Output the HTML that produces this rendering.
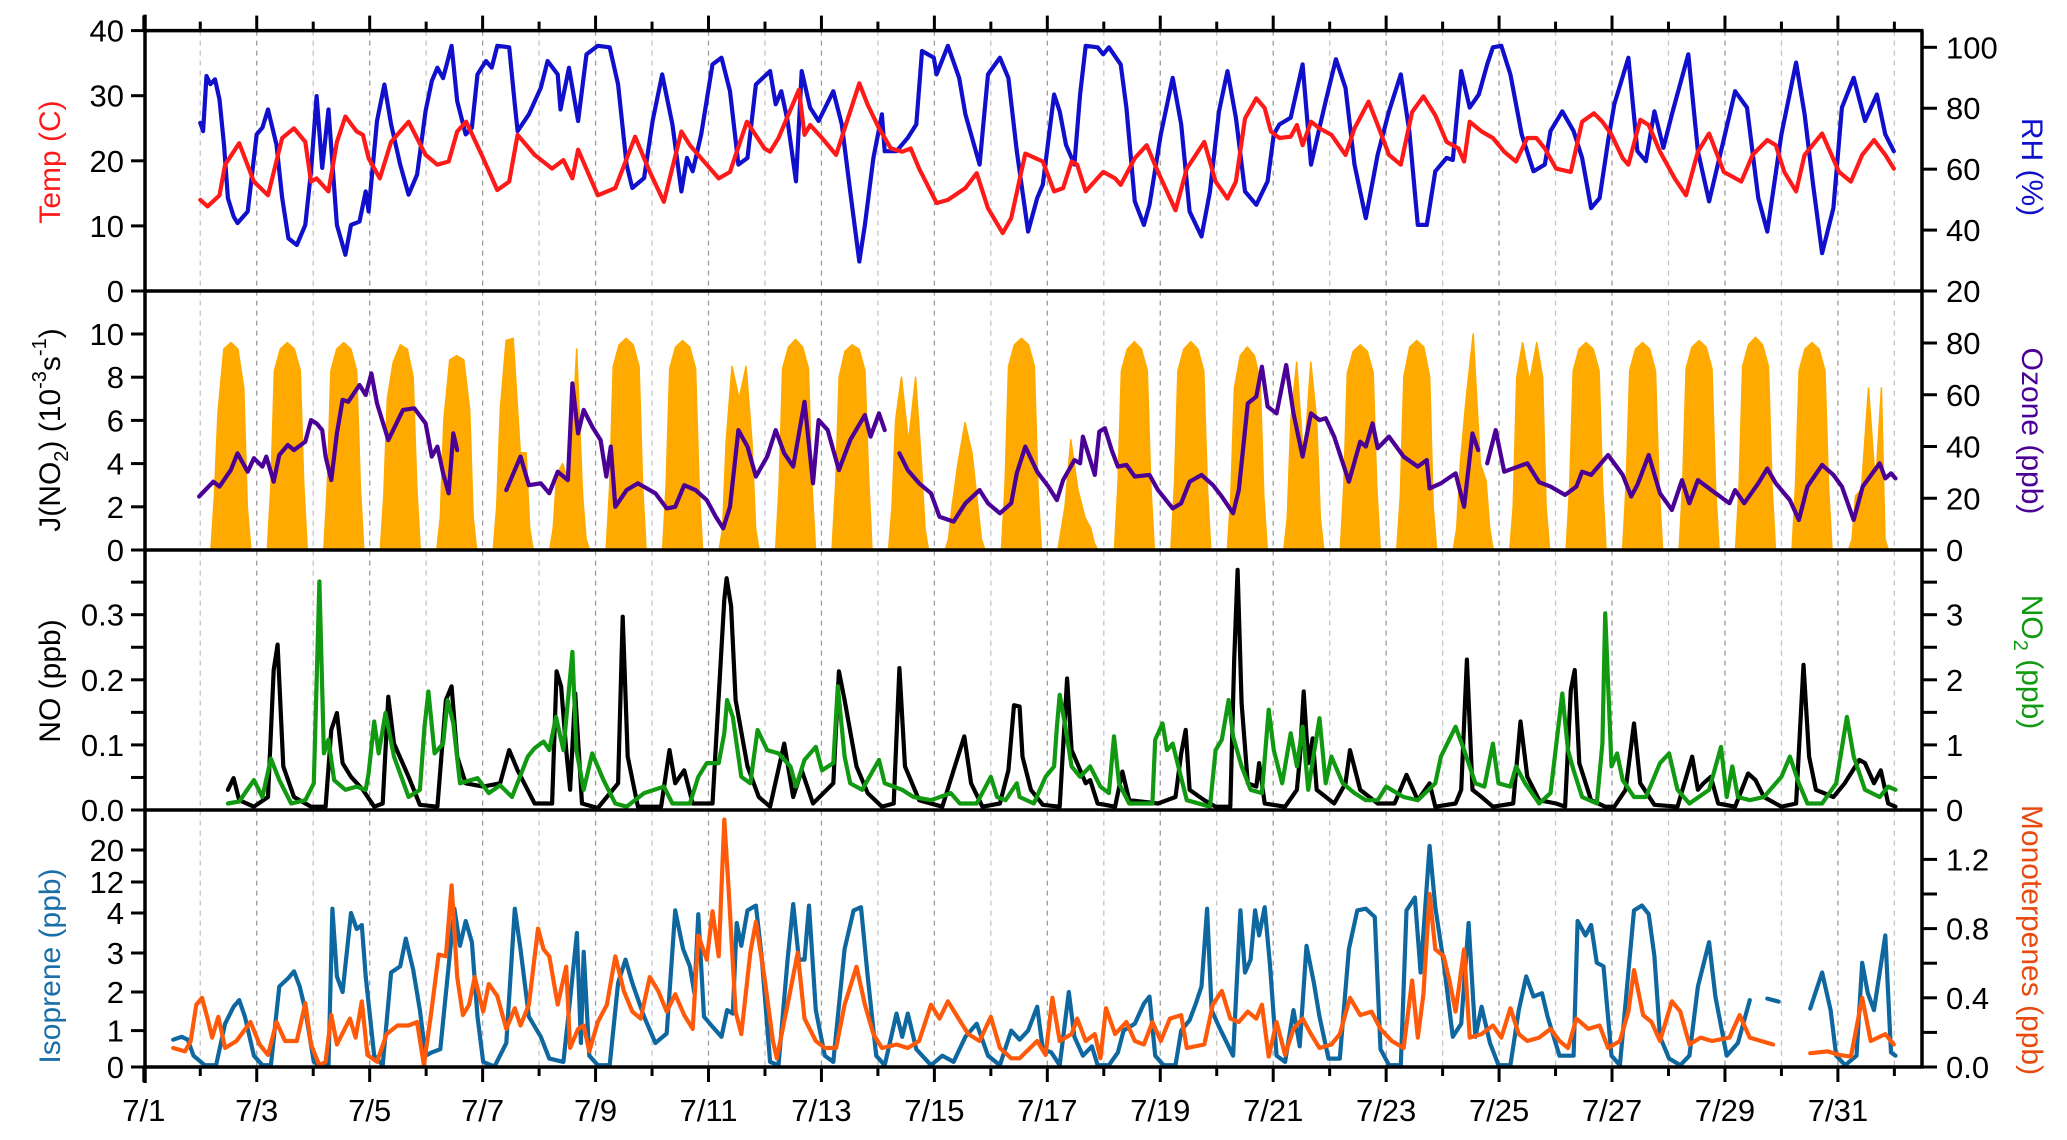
<!DOCTYPE html>
<html><head><meta charset="utf-8"><style>
html,body{margin:0;padding:0;background:#fff;}
svg{display:block;font-family:"Liberation Sans",Arial,sans-serif;}
</style></head><body>
<svg id="chart" xmlns="http://www.w3.org/2000/svg" width="2067" height="1140" viewBox="0 0 2067 1140">
<rect x="0" y="0" width="2067" height="1140" fill="#fff"/>
<g id="grid"></g>
<g id="marks"></g>
<g id="axes"></g>
<text transform="translate(60,162) rotate(-90)" text-anchor="middle" font-size="30" fill="#ff1a1a">Temp (C)</text>
<text transform="translate(60,430) rotate(-90)" text-anchor="middle" font-size="30" fill="#000">J(NO<tspan font-size="20" dy="8">2</tspan><tspan dy="-8">) (10</tspan><tspan font-size="20" dy="-14">-3</tspan><tspan dy="14">s</tspan><tspan font-size="20" dy="-14">-1</tspan><tspan dy="14">)</tspan></text>
<text transform="translate(60,681) rotate(-90)" text-anchor="middle" font-size="30" fill="#000">NO (ppb)</text>
<text transform="translate(60,966) rotate(-90)" text-anchor="middle" font-size="30" fill="#1a6fa8">Isoprene (ppb)</text>
<text transform="translate(2022,167) rotate(90)" text-anchor="middle" font-size="30" fill="#1010cc">RH (%)</text>
<text transform="translate(2022,431) rotate(90)" text-anchor="middle" font-size="30" fill="#4b0096">Ozone (ppb)</text>
<text transform="translate(2022,662) rotate(90)" text-anchor="middle" font-size="30" fill="#119911">NO<tspan font-size="20" dy="8">2</tspan><tspan dy="-8"> (ppb)</tspan></text>
<text transform="translate(2022,940) rotate(90)" text-anchor="middle" font-size="30" fill="#e84a10">Monoterpenes (ppb)</text>
</svg>
<script>
// ---------- DATA ----------
const dayLabels = ["7/1","7/3","7/5","7/7","7/9","7/11","7/13","7/15","7/17","7/19","7/21","7/23","7/25","7/27","7/29","7/31"];
const tempTicks = [0,10,20,30,40];
const rhTicks = [20,40,60,80,100];
const jTicks = [0,2,4,6,8,10];
const o3Ticks = [0,20,40,60,80];
const noTicks = [0,0.05,0.1,0.15,0.2,0.25,0.3,0.35];
const noLabels = ["0.0","","0.1","","0.2","","0.3",""];
const no2Ticks = [0,0.5,1,1.5,2,2.5,3,3.5];
const no2Labels = ["0","","1","","2","","3",""];
const isoTicks = [0,1,2,3,4,12,20];
const mtTicks = [0,0.2,0.4,0.6,0.8,1.0,1.2];
const mtLabels = ["0.0","","0.4","","0.8","","1.2"];

const tempT = [1.00,1.13,1.34,1.44,1.69,1.95,2.20,2.45,2.66,2.86,2.96,3.06,3.27,3.42,3.57,3.77,3.88,3.98,4.18,4.38,4.69,4.99,5.20,5.40,5.55,5.71,6.01,6.26,6.47,6.62,6.92,7.23,7.43,7.59,7.69,8.04,8.35,8.70,8.96,9.21,9.52,9.67,9.87,10.18,10.38,10.68,10.99,11.09,11.24,11.60,11.70,11.80,12.01,12.26,12.67,12.82,13.02,13.23,13.43,13.58,13.73,14.04,14.24,14.55,14.75,14.95,15.21,15.36,15.61,
15.92,16.12,16.28,16.43,16.53,16.68,16.99,17.20,17.30,17.55,17.76,17.96,18.27,18.47,18.78,18.98,19.19,19.34,19.50,19.70,19.85,19.96,20.11,20.31,20.42,20.52,20.67,20.82,21.03,21.28,21.44,21.69,21.85,22.05,22.26,22.46,22.66,22.87,23.07,23.28,23.38,23.48,23.69,23.89,24.09,24.30,24.50,24.66,24.81,25.01,25.27,25.47,25.68,25.83,25.99,26.19,26.29,26.50,26.65,26.85,27.11,27.31,27.52,27.72,27.98,28.29,28.49,28.75,28.90,29.05,29.26,29.41,29.72,30.02,30.23,30.43,30.64,30.84,30.99];
const tempV = [14.0,13.0,14.7,19.4,22.7,16.8,14.7,23.5,25.0,22.9,16.8,17.3,15.3,22.9,26.8,24.5,24.0,20.4,17.3,22.9,26.0,20.9,19.4,19.9,24.5,26.0,20.4,15.5,16.8,24.0,20.9,18.8,20.1,17.3,21.7,14.7,15.8,23.7,18.3,13.7,24.5,22.4,20.4,17.3,18.3,26.0,21.9,21.4,23.5,30.9,24.0,25.5,23.5,20.9,31.9,28.6,25.0,21.9,21.4,21.9,18.8,13.5,14.0,15.8,18.1,12.7,8.9,11.2,21.1,
19.9,15.3,15.8,19.9,19.4,15.3,18.3,17.3,16.3,20.4,22.4,18.3,12.4,18.8,22.9,16.8,14.2,16.8,26.5,29.6,28.1,24.5,23.5,23.7,25.5,22.4,26.0,25.0,24.0,20.9,25.0,29.1,25.5,20.9,19.4,27.5,29.9,27.0,22.9,21.9,19.9,26.0,24.5,23.5,21.4,19.9,23.5,23.5,21.9,18.8,18.3,26.0,27.3,26.0,24.0,20.4,19.4,26.3,25.5,21.4,17.3,14.7,21.4,24.2,18.3,16.8,20.9,23.2,22.4,18.3,15.3,20.9,24.2,18.3,16.8,20.9,23.2,20.9,18.8];

const rhT = [1.00,1.05,1.11,1.18,1.26,1.34,1.42,1.49,1.59,1.66,1.84,2.00,2.10,2.20,2.35,2.45,2.56,2.71,2.86,2.96,3.06,3.16,3.27,3.42,3.57,3.67,3.82,3.93,3.98,4.13,4.26,4.38,4.54,4.69,4.84,4.99,5.10,5.20,5.30,5.45,5.55,5.70,5.81,5.91,6.06,6.16,6.26,6.47,6.57,6.62,6.82,7.03,7.15,7.33,7.38,7.53,7.69,7.84,8.04,8.25,8.40,8.55,8.65,8.86,9.01,9.18,9.36,9.52,9.62,9.72,9.87,10.07,10.23,10.38,10.53,10.69,10.84,11.09,11.19,11.29,11.40,11.55,11.65,11.80,11.95,12.21,12.36,12.51,12.67,12.77,12.92,13.07,13.12,13.33,13.53,13.68,13.78,13.99,14.04,14.24,14.44,14.55,14.80,14.95,15.16,15.31,15.46,
15.66,15.82,15.92,16.12,16.22,16.33,16.48,16.58,16.68,16.89,16.99,17.09,17.30,17.40,17.55,17.71,17.81,18.01,18.22,18.37,18.52,18.73,18.88,19.04,19.19,19.34,19.50,19.70,19.90,20.01,20.11,20.31,20.52,20.67,20.82,20.93,21.11,21.28,21.44,21.64,21.85,22.05,22.26,22.41,22.56,22.72,22.87,23.07,23.18,23.33,23.48,23.64,23.79,23.89,24.04,24.20,24.40,24.61,24.81,24.91,25.12,25.32,25.47,25.63,25.78,25.93,26.04,26.29,26.45,26.60,26.75,26.91,27.06,27.35,27.52,27.72,27.93,28.18,28.39,28.59,28.75,29.00,29.26,29.41,29.56,29.72,29.92,30.07,30.28,30.48,30.69,30.84,30.99];
const rhV = [75.2,72.5,90.6,87.9,89.5,82.9,68.0,50.5,44.5,42.3,46.1,71.4,73.6,79.6,68.0,50.5,37.3,35.1,41.7,59.3,84.0,60.4,79.6,41.7,31.9,41.7,42.8,52.7,46.1,75.8,87.8,74.7,61.5,51.6,58.2,79.1,88.9,93.3,89.9,100.5,82.3,71.4,73.6,91.1,95.5,93.3,100.5,100.0,81.3,72.5,78.0,86.7,95.5,91.1,79.6,93.3,75.8,97.7,100.5,100.0,87.8,61.5,53.8,57.1,75.8,91.1,74.7,52.7,63.7,59.3,71.4,94.4,96.6,85.6,61.5,63.7,87.8,92.2,81.3,85.6,75.8,56.0,92.2,80.2,75.8,85.6,74.7,52.7,29.7,41.7,63.7,78.0,65.9,65.9,70.3,74.7,98.8,96.6,91.1,100.5,89.9,78.0,61.5,91.1,96.6,89.9,65.9,
39.5,50.5,54.9,84.5,79.0,68.0,61.5,84.5,100.5,100.0,97.7,100.0,94.4,80.2,49.4,41.7,48.3,71.4,90.0,74.7,46.1,37.9,52.7,79.0,92.2,76.9,52.7,48.3,56.0,71.4,74.7,76.9,94.4,61.5,73.6,82.3,96.1,86.7,61.5,43.9,64.8,79.0,91.1,72.5,41.7,41.7,59.3,63.7,63.0,92.2,80.2,84.5,94.4,100.0,100.5,91.1,71.4,59.3,61.5,72.5,79.0,72.5,63.7,47.2,50.5,69.2,81.3,96.6,65.9,62.6,79.0,67.0,78.0,97.7,65.9,49.4,65.9,85.6,80.2,50.5,39.5,71.4,95.0,78.0,54.9,32.4,47.2,80.2,90.0,75.8,84.5,71.4,65.9];

// J(NO2): one row per day (7/2 .. 7/31), values at the hours in jHours
const jHours = [4.5,6,7.5,10,13,16,18.5,20,21.5];
const jRows = [
[0,2.5,6.3,9.3,9.6,9.3,7.5,2,0],[0,3,8.3,9.3,9.6,9.3,8.3,3,0],[0,3,8.3,9.3,9.6,9.3,8.3,3,0],[0,2.5,7,8.7,9.5,9.3,8,3,0],
[0,1.5,6,8.8,9.0,8.8,6.5,1.5,0],[0,2,6.5,9.7,9.8,4.5,4.5,1,0],[0,1,3.5,4,3,9.3,2.5,0.5,0],[0,3,8.5,9.5,9.8,9.5,8.5,3,0],
[0,3,8.4,9.4,9.7,9.4,8.4,3,0],[0,1,5,8.5,7,8.5,5,1,0],[0,3,8.4,9.4,9.75,9.4,8.4,3,0],[0,3,8,9.2,9.5,9.3,8.3,3.5,0],
[0,2,6,8,5,8,4,1,0],[0,0.5,2,4,5.9,4.5,2,0.5,0],[0,3,8.5,9.5,9.8,9.5,8.5,3,0],[0,1,2,5.1,2.8,1.5,1,0.3,0],
[0,3,8.3,9.3,9.65,9.3,8.3,3,0],[0,3,8.3,9.3,9.65,9.3,8.3,3,0],[0,2.5,7.5,9,9.4,9,7.8,2.5,0],[0,1.5,6,8.7,4,8.7,6,1.5,0],
[0,3,8.2,9.2,9.5,9.2,8.2,3,0],[0,2.5,8,9.4,9.7,9.4,8,2,0],[0,1,4,7,10,4,3.2,1,0],[0,2,8,9.6,7.8,9.6,8,2,0],
[0,3,8.3,9.3,9.6,9.3,8.3,3,0],[0,3,8.3,9.3,9.6,9.3,8.3,3,0],[0,3,8.4,9.4,9.7,9.4,8.4,3,0],[0,3,8.5,9.5,9.85,9.5,8.5,3,0],
[0,3,8.3,9.3,9.6,9.3,8.3,3,0],[0,0.5,2.5,2.8,7.5,3,7.5,0.5,0]];

const o3T = [0.98,1.23,1.34,1.54,1.66,1.84,1.95,2.10,2.17,2.30,2.40,2.55,2.66,2.86,2.96,3.06,3.16,3.22,3.32,3.42,3.52,3.62,3.82,3.93,4.03,4.13,4.33,4.59,4.79,4.99,5.10,5.20,5.30,5.40,5.48,5.55,6.0,
6.42,6.67,6.82,7.03,7.18,7.33,7.51,7.59,7.69,7.79,7.94,8.09,8.19,8.27,8.35,8.55,8.75,9.06,9.26,9.41,9.57,9.77,9.97,10.13,10.26,10.38,10.53,10.69,10.84,11.04,11.19,11.34,11.50,11.70,11.85,11.95,12.11,12.31,12.51,12.77,12.87,13.02,13.12,13.25,
13.38,13.53,13.73,13.94,14.09,14.34,14.55,14.80,14.95,15.16,15.36,15.46,15.61,
15.82,16.02,16.17,16.28,16.48,16.58,16.63,16.84,16.92,17.02,17.14,17.25,17.40,17.55,17.81,17.96,18.22,18.37,18.52,18.73,18.93,19.09,19.29,19.39,19.55,19.70,19.80,19.90,20.06,20.23,20.36,20.52,20.67,20.82,20.93,21.08,21.34,21.54,21.64,21.76,21.85,22.05,22.31,22.56,22.72,22.77,22.97,23.23,23.38,23.53,23.63,23.70,
23.79,23.94,24.09,24.50,24.71,24.91,25.17,25.37,25.47,25.63,25.93,26.19,26.34,26.45,26.65,26.85,27.06,27.24,27.37,27.52,27.77,28.08,28.18,28.34,28.59,28.75,28.90,29.15,29.31,29.46,29.72,29.92,30.07,30.28,30.44,30.74,30.84,30.94,31.02];
const o3V = [19.8,25.3,23.5,29.6,35.8,29.0,34.0,30.9,34.6,25.3,35.2,38.9,37.0,40.1,48.1,46.9,44.4,34.6,25.9,43.2,55.6,54.9,61.1,57.4,65.4,54.3,40.7,51.9,52.5,46.9,34.6,38.3,28.4,21.0,43.2,37.0,null,
22.2,34.6,24.0,24.7,21.0,29.0,25.9,61.7,43.2,51.9,45.7,40.7,27.2,38.3,16.0,22.2,24.7,21.0,15.4,16.0,24.0,22.2,18.5,12.3,8.0,16.0,44.4,38.3,27.2,34.6,44.4,35.8,30.9,54.9,24.7,48.1,44.4,29.6,40.7,50.0,42.0,50.6,44.4,null,
35.8,29.6,24.7,21.0,12.3,10.5,17.3,22.2,17.3,13.6,17.3,28.4,38.3,
29.0,23.5,18.5,25.9,33.3,32.1,42.0,27.8,43.8,45.1,37.0,30.9,31.5,27.2,27.8,22.2,15.4,17.3,25.3,27.8,24.1,19.8,13.6,22.2,54.3,56.8,67.9,53.1,50.6,68.5,50.6,34.6,50.6,48.1,48.8,42.0,25.3,40.1,38.3,46.9,37.7,42.0,34.6,30.9,33.3,22.8,24.7,28.4,16.0,43.2,37.0,null,
32.1,44.4,29.0,32.1,25.1,23.5,20.4,23.5,29.0,27.8,35.2,27.8,19.8,24.1,35.2,21.0,14.8,25.9,17.3,25.9,22.0,17.3,22.2,17.3,24.7,30.2,24.7,18.5,11.1,23.5,31.5,27.8,23.5,11.1,23.5,32.1,26.5,28.4,26.5];

const noT = [1.49,1.59,1.69,1.95,2.20,2.30,2.37,2.47,2.66,2.96,3.22,3.32,3.42,3.52,3.67,3.88,4.08,4.23,4.33,4.43,4.69,4.89,5.20,5.35,5.45,5.55,5.70,6.01,6.31,6.47,6.62,6.92,7.23,7.31,7.39,7.48,7.55,7.64,7.76,8.04,8.40,8.48,8.57,8.75,9.16,9.31,9.41,9.57,9.72,10.07,10.28,10.32,10.40,10.48,10.69,10.89,11.09,11.34,11.50,11.65,11.85,12.21,12.31,12.41,12.62,12.82,13.07,13.28,13.38,13.48,13.73,14.14,14.34,14.53,14.65,14.85,15.16,15.31,15.41,
15.51,15.56,15.71,15.92,16.22,16.35,16.43,16.53,16.68,16.76,16.89,17.20,17.33,17.45,17.96,18.27,18.37,18.45,18.52,18.78,18.98,19.24,19.31,19.37,19.44,19.55,19.70,19.75,19.85,20.21,20.42,20.47,20.54,20.62,20.70,20.77,21.08,21.28,21.36,21.54,21.85,22.15,22.36,22.56,22.77,22.87,23.23,23.33,23.43,23.53,23.69,23.89,24.25,24.38,24.50,24.71,25.01,25.17,25.27,25.34,25.42,25.63,25.88,26.04,26.24,26.39,26.50,26.75,27.16,27.42,27.52,27.62,27.75,27.88,28.18,28.41,28.54,28.69,29.00,29.26,29.39,29.49,29.61,29.92,30.12,30.38,30.48,30.64,30.76,30.89,31.02];
const noV = [0.031,0.049,0.015,0.005,0.02,0.215,0.254,0.067,0.02,0.005,0.005,0.123,0.149,0.072,0.051,0.031,0.005,0.01,0.174,0.102,0.051,0.008,0.005,0.169,0.19,0.082,0.041,0.036,0.041,0.092,0.061,0.01,0.01,0.213,0.19,0.092,0.031,0.179,0.01,0.003,0.041,0.297,0.082,0.005,0.005,0.092,0.041,0.061,0.01,0.01,0.323,0.356,0.313,0.169,0.067,0.02,0.005,0.102,0.02,0.061,0.01,0.041,0.213,0.169,0.067,0.026,0.005,0.01,0.218,0.067,0.015,0.005,0.061,0.113,0.041,0.005,0.01,0.061,0.161,
0.159,0.082,0.031,0.008,0.005,0.202,0.092,0.072,0.041,0.046,0.01,0.005,0.059,0.015,0.01,0.02,0.087,0.123,0.031,0.015,0.005,0.005,0.231,0.369,0.164,0.041,0.036,0.072,0.01,0.005,0.031,0.077,0.182,0.072,0.11,0.031,0.01,0.041,0.092,0.031,0.01,0.01,0.054,0.015,0.041,0.005,0.01,0.031,0.231,0.031,0.02,0.005,0.01,0.136,0.051,0.015,0.01,0.005,0.184,0.215,0.072,0.015,0.005,0.005,0.031,0.133,0.041,0.008,0.005,0.082,0.031,0.041,0.051,0.01,0.005,0.056,0.046,0.02,0.005,0.01,0.223,0.082,0.031,0.02,0.041,0.077,0.072,0.041,0.061,0.01,0.005];

const no2T = [1.49,1.69,1.95,2.10,2.25,2.40,2.61,2.86,3.01,3.11,3.19,3.27,3.37,3.57,3.77,3.93,3.98,4.08,4.16,4.28,4.43,4.69,4.89,4.97,5.04,5.15,5.30,5.38,5.48,5.60,5.91,6.11,6.31,6.52,6.80,6.92,7.08,7.18,7.30,7.43,7.59,7.66,7.79,7.94,8.14,8.35,8.55,8.86,9.21,9.36,9.67,9.82,9.97,10.18,10.28,10.33,10.43,10.58,10.74,10.87,11.04,11.24,11.45,11.55,11.70,11.90,12.01,12.21,12.29,12.41,12.51,12.72,13.02,13.12,13.43,13.63,13.94,14.29,14.45,14.75,15.00,15.11,15.26,15.46,
15.51,15.76,15.97,16.12,16.17,16.22,16.31,16.43,16.58,16.76,16.94,17.09,17.18,17.27,17.45,17.86,17.91,18.04,18.12,18.22,18.32,18.47,18.88,18.98,19.09,19.21,19.29,19.44,19.60,19.80,19.92,20.01,20.16,20.31,20.42,20.52,20.62,20.82,20.93,21.03,21.23,21.44,21.64,21.85,22.00,22.31,22.56,22.87,22.97,23.23,23.38,23.58,23.74,23.89,23.99,24.20,24.30,24.46,24.71,24.91,25.12,25.22,25.32,25.47,25.73,25.83,25.88,25.99,26.09,26.19,26.39,26.60,26.85,27.01,27.16,27.37,27.72,27.93,28.03,28.13,28.23,28.44,28.69,29.00,29.15,29.31,29.46,29.72,29.97,30.16,30.28,30.48,30.74,30.89,31.02];
const no2V = [0.10,0.13,0.46,0.20,0.79,0.46,0.10,0.15,0.41,3.51,0.87,1.08,0.46,0.31,0.36,0.31,0.56,1.36,0.87,1.49,0.82,0.20,0.31,1.28,1.82,0.87,1.02,1.69,1.33,0.41,0.49,0.26,0.38,0.20,0.82,0.95,1.05,0.92,1.43,0.92,2.43,0.92,0.31,0.87,0.46,0.10,0.05,0.26,0.36,0.10,0.10,0.51,0.72,0.72,1.18,1.69,1.43,0.51,0.41,1.23,0.92,0.87,0.67,0.36,0.77,0.97,0.61,0.72,1.90,0.82,0.41,0.31,0.77,0.41,0.31,0.20,0.15,0.26,0.10,0.10,0.51,0.20,0.15,0.41,
0.20,0.10,0.51,0.67,1.28,1.77,1.33,0.67,0.51,0.67,0.36,0.26,1.13,0.41,0.10,0.10,1.08,1.33,0.92,1.02,0.67,0.15,0.05,0.92,1.08,1.69,1.13,0.67,0.31,0.26,1.54,0.92,0.41,1.18,0.67,1.28,0.31,1.41,0.41,0.82,0.41,0.26,0.15,0.15,0.36,0.20,0.15,0.41,0.82,1.28,0.92,0.41,0.36,1.02,0.41,0.36,0.67,0.41,0.10,0.26,1.79,0.92,0.61,0.20,0.10,1.02,3.02,0.67,0.87,0.46,0.20,0.20,0.72,0.87,0.31,0.10,0.31,0.97,0.20,0.67,0.20,0.15,0.20,0.51,0.82,0.41,0.10,0.10,0.41,1.43,0.82,0.31,0.20,0.36,0.31];

const isoT = [0.52,0.67,0.78,0.88,1.08,1.28,1.44,1.59,1.69,1.79,1.95,2.10,2.25,2.40,2.56,2.66,2.76,2.86,3.01,3.16,3.27,3.34,3.42,3.52,3.67,3.77,3.86,3.93,4.08,4.23,4.38,4.54,4.64,4.77,4.89,4.99,5.10,5.25,5.50,5.60,5.70,5.81,5.91,6.01,6.21,6.42,6.57,6.67,6.82,7.03,7.18,7.43,7.53,7.67,7.74,7.79,7.89,8.04,8.25,8.40,8.53,8.65,8.86,9.06,9.26,9.41,9.55,9.67,9.75,9.82,9.92,10.07,10.23,10.33,10.43,10.50,10.58,10.69,10.84,10.94,11.09,11.24,11.40,11.50,11.60,11.70,11.78,11.90,12.06,12.21,12.41,12.57,12.70,12.82,12.97,13.12,13.33,13.43,13.53,13.68,13.94,14.14,14.34,14.55,14.75,14.95,15.16,15.36,
15.51,15.66,15.82,15.92,16.07,16.22,16.38,16.48,16.63,16.79,16.89,17.09,17.25,17.35,17.55,17.71,17.81,17.91,18.06,18.27,18.37,18.52,18.63,18.73,18.83,18.91,19.04,19.29,19.42,19.50,19.60,19.68,19.75,19.85,19.94,20.06,20.21,20.36,20.47,20.59,20.72,20.82,20.98,21.18,21.34,21.49,21.64,21.80,21.90,22.05,22.26,22.36,22.51,22.61,22.77,22.87,23.02,23.18,23.33,23.46,23.58,23.69,23.84,23.99,24.20,24.35,24.48,24.61,24.76,24.86,25.07,25.32,25.39,25.53,25.63,25.73,25.85,25.99,26.14,26.39,26.53,26.65,26.75,26.85,27.01,27.21,27.37,27.52,27.72,27.83,28.03,28.23,28.44,28.60,28.75,28.95,29.20,29.51,29.72,29.87,29.97,30.13,30.33,30.43,30.53,30.64,30.84,30.94,31.02];
const isoV = [0.75,0.83,0.75,0.31,0.05,0.05,1.18,1.62,1.79,1.36,0.31,0.05,0.05,2.14,2.36,2.53,2.14,1.53,0.14,0.01,0.05,5.1,2.4,2.0,4.0,3.6,3.7,2.4,0.31,0.05,2.5,2.66,3.36,2.57,1.53,0.31,0.40,0.49,5.1,3.18,3.8,3.27,1.36,0.14,0.01,0.66,5.1,3.1,1.36,0.83,0.23,0.14,1.53,3.5,0.66,3.03,0.31,0.05,0.05,2.23,2.83,2.23,1.36,0.66,0.92,4.67,3.1,2.66,1.97,3.97,1.36,1.10,0.83,1.53,1.44,3.75,3.18,4.67,5.9,2.92,0.14,0.05,2.83,6.3,2.83,2.83,5.9,1.53,0.31,0.14,3.1,4.67,5.5,2.4,0.31,0.05,1.44,0.83,1.44,0.49,0.05,0.31,0.14,0.83,1.18,0.31,0.05,1.0,
0.75,1.0,1.62,0.49,0.40,0.05,2.0,0.83,0.31,0.57,0.05,0.05,0.40,1.0,1.18,1.7,1.88,0.31,0.05,0.05,1.0,1.27,1.7,2.14,5.1,1.53,1.1,0.31,4.7,2.5,2.83,4.7,3.44,5.5,2.75,0.31,0.14,1.53,0.57,3.18,2.23,1.36,0.23,0.23,3.1,4.67,5.1,3.9,0.49,0.05,0.05,4.67,8.0,2.5,21.0,5.5,2.75,0.83,1.18,3.75,0.83,1.62,0.66,0.05,0.05,1.53,2.4,1.88,1.97,1.36,0.31,0.31,3.8,3.44,3.7,2.75,2.66,0.31,0.05,4.67,5.9,3.97,2.92,0.83,0.23,0.05,0.31,2.14,3.27,1.88,0.31,0.66,1.79,null,1.83,1.75,null,1.57,2.5,1.53,0.31,0.05,0.31,2.75,1.97,1.53,3.44,0.40,0.31];

const mtT = [0.52,0.73,0.83,0.93,1.03,1.13,1.21,1.32,1.44,1.64,1.89,2.05,2.20,2.35,2.50,2.71,2.86,2.96,3.11,3.22,3.32,3.42,3.65,3.75,3.86,3.96,4.13,4.30,4.49,4.69,4.84,4.96,5.10,5.22,5.35,5.45,5.55,5.65,5.76,5.86,6.01,6.11,6.26,6.42,6.57,6.67,6.82,6.98,7.08,7.18,7.33,7.48,7.55,7.69,7.79,7.89,8.04,8.20,8.35,8.50,8.65,8.80,8.96,9.11,9.26,9.41,9.57,9.72,9.82,9.97,10.07,10.18,10.28,10.36,10.48,10.58,10.74,10.84,10.99,11.14,11.21,11.40,11.58,11.70,11.90,12.06,12.26,12.41,12.62,12.77,12.92,13.07,13.33,13.53,13.73,13.94,14.09,14.24,14.39,14.60,14.80,15.00,15.16,15.36,
15.51,15.82,15.97,16.09,16.22,16.43,16.53,16.68,16.84,16.94,17.04,17.20,17.40,17.55,17.71,17.86,18.01,18.17,18.37,18.47,18.78,18.93,19.09,19.24,19.39,19.55,19.70,19.80,19.92,20.06,20.21,20.36,20.52,20.67,20.82,21.03,21.18,21.36,21.54,21.74,21.90,22.10,22.31,22.46,22.56,22.66,22.77,22.87,23.02,23.12,23.23,23.38,23.48,23.69,23.89,24.04,24.20,24.35,24.50,24.71,24.91,25.07,25.22,25.37,25.58,25.78,25.93,26.14,26.29,26.39,26.55,26.70,26.85,27.06,27.21,27.37,27.57,27.77,28.08,28.26,28.44,28.64,28.85,29.20,29.51,29.82,30.02,30.23,30.43,30.58,30.84,30.99];
const mtV = [0.11,0.09,0.15,0.36,0.40,0.28,0.17,0.29,0.11,0.15,0.26,0.13,0.07,0.26,0.15,0.15,0.37,0.13,0.01,0.03,0.30,0.13,0.28,0.17,0.38,0.07,0.03,0.19,0.24,0.24,0.26,0.01,0.34,0.65,0.64,1.05,0.52,0.30,0.36,0.52,0.32,0.48,0.41,0.22,0.34,0.24,0.36,0.80,0.68,0.64,0.36,0.58,0.11,0.22,0.24,0.09,0.26,0.36,0.64,0.44,0.32,0.28,0.52,0.44,0.32,0.42,0.30,0.22,0.76,0.62,0.90,0.64,1.43,1.01,0.32,0.19,0.66,0.84,0.52,0.15,0.05,0.36,0.66,0.28,0.15,0.11,0.11,0.36,0.58,0.36,0.19,0.11,0.13,0.11,0.15,0.36,0.28,0.38,0.30,0.19,0.15,0.29,0.11,0.05,
0.05,0.15,0.07,0.40,0.15,0.19,0.28,0.15,0.19,0.05,0.34,0.19,0.26,0.15,0.13,0.26,0.15,0.28,0.30,0.11,0.13,0.36,0.44,0.28,0.26,0.32,0.28,0.36,0.06,0.26,0.07,0.22,0.28,0.19,0.11,0.13,0.19,0.40,0.30,0.32,0.22,0.15,0.11,0.50,0.17,0.42,1.0,0.68,0.64,0.50,0.32,0.68,0.17,0.19,0.24,0.17,0.34,0.19,0.15,0.17,0.22,0.15,0.11,0.28,0.22,0.24,0.11,0.15,0.32,0.56,0.30,0.26,0.15,0.38,0.32,0.13,0.17,0.15,0.17,0.30,0.17,0.15,0.13,null,0.08,0.09,0.07,0.06,0.40,0.15,0.19,0.13];

// ---------- SCALES ----------
const X0 = 143.8, DAY = 56.47, XL = 145, XR = 1922;
const P = [30.6, 291, 550, 810, 1067];
function xS(t){ return X0 + t*DAY; }
function yTemp(v){ return P[1] - v*(P[1]-P[0])/40; }
function yRH(v){ return 291 - (v-20)*3.046; }
function yJ(v){ return P[2] - v*21.6; }
function yO3(v){ return P[2] - v*2.7; }
function yO3Axis(v){ return P[2] - v*2.5875; }
function yNO(v){ return P[3] - v*651; }
function yNO2(v){ return P[3] - v*65.1; }
const isoKnots = [0,1,2,3,4,12,20], isoPix = [1067,1030.6,992,953,913,882,850];
function yIso(v){
  for (let i=1;i<isoKnots.length;i++){
    if (v <= isoKnots[i]){ const f=(v-isoKnots[i-1])/(isoKnots[i]-isoKnots[i-1]); return isoPix[i-1]+f*(isoPix[i]-isoPix[i-1]); }
  }
  return 850 - (v-20)*4;
}
function yMT(v){ return P[4] - v*173; }

const NS = "http://www.w3.org/2000/svg";
function mk(tag, attrs, parent){
  const e = document.createElementNS(NS, tag);
  for (const k in attrs) e.setAttribute(k, attrs[k]);
  parent.appendChild(e); return e;
}
const grid = document.getElementById('grid');
const marks = document.getElementById('marks');
const axes = document.getElementById('axes');

for (let d=1; d<=31; d++){
  const g = mk('line', {x1:xS(d), x2:xS(d), y1:P[0], y2:P[4], stroke:(d%2===0?'#9a9a9a':'#c4c4c4'), 'stroke-width':1.3, 'stroke-dasharray':'5,5'}, grid);
  
  
}

(function(){
  let d = '';
  jRows.forEach((row, i) => {
    const day = i + 1;
    d += 'M' + xS(day + jHours[0]/24).toFixed(1) + ',' + yJ(0).toFixed(1);
    row.forEach((v, k) => { d += 'L' + xS(day + jHours[k]/24).toFixed(1) + ',' + yJ(v).toFixed(1); });
    d += 'L' + xS(day + jHours[jHours.length-1]/24).toFixed(1) + ',' + yJ(0).toFixed(1) + 'Z';
  });
  const p = mk('path', {d:d, fill:'#ffaa00', stroke:'#ffaa00', 'stroke-width':1.5, 'stroke-linejoin':'round'}, marks);
  
  
})();

function linePath(ts, vs, yf){
  let d = '', pen = false;
  for (let i=0;i<ts.length;i++){
    if (vs[i] === null){ pen = false; continue; }
    d += (pen ? 'L' : 'M') + xS(ts[i]).toFixed(1) + ',' + yf(vs[i]).toFixed(1);
    pen = true;
  }
  return d;
}
function drawLine(ts, vs, yf, color, name){
  const p = mk('path', {d:linePath(ts, vs, yf), fill:'none', stroke:color, 'stroke-width':4.2, 'stroke-linejoin':'round', 'stroke-linecap':'round'}, marks);
  
  
}
drawLine(rhT, rhV, yRH, '#1010cc', 'rh-line');
drawLine(tempT, tempV, yTemp, '#ff1a1a', 'temp-line');
drawLine(o3T, o3V, yO3, '#4b0096', 'ozone-line');
drawLine(noT, noV, yNO, '#000000', 'no-line');
drawLine(no2T, no2V, yNO2, '#119911', 'no2-line');
drawLine(isoT, isoV, yIso, '#0f67a0', 'isoprene-line');
drawLine(mtT, mtV, yMT, '#ff5a0a', 'monoterpenes-line');

[P[0],P[1],P[2],P[3],P[4]].forEach(y => {
  const l = mk('line', {x1:XL-1.5, x2:XR+1.5, y1:y, y2:y, stroke:'#000', 'stroke-width':3.5}, axes);
  
  
});
const la = mk('line', {x1:XL, x2:XL, y1:P[0]-16, y2:P[4]+16, stroke:'#000', 'stroke-width':3.5}, axes);


const ra = mk('line', {x1:XR, x2:XR, y1:P[0], y2:P[4], stroke:'#000', 'stroke-width':3.5}, axes);



for (let d=0; d<=31; d++){
  const len = (d%2===0) ? 15 : 9;
  const t1 = mk('line', {x1:xS(d), x2:xS(d), y1:P[0], y2:P[0]-len, stroke:'#000', 'stroke-width':3}, axes);
  
  
  const t2 = mk('line', {x1:xS(d), x2:xS(d), y1:P[4], y2:P[4]+len, stroke:'#000', 'stroke-width':3}, axes);
  
  
}
dayLabels.forEach((lab, i) => {
  const tx = mk('text', {x:xS(i*2), y:1121, 'text-anchor':'middle', 'font-size':31, fill:'#000'}, axes);
  tx.textContent = lab;
  
  
});

function leftAxis(ticks, labels, yf, name){
  ticks.forEach((v, i) => {
    const y = yf(v);
    const l = mk('line', {x1:XL-14, x2:XL, y1:y, y2:y, stroke:'#000', 'stroke-width':3}, axes);
    
    
    if (labels[i] !== ''){
      const t = mk('text', {x:XL-21, y:y+11, 'text-anchor':'end', 'font-size':31, fill:'#000'}, axes);
      t.textContent = labels[i];
      
      
    }
  });
}
function rightAxis(ticks, labels, yf, name){
  ticks.forEach((v, i) => {
    const y = yf(v);
    const l = mk('line', {x1:XR, x2:XR+15, y1:y, y2:y, stroke:'#000', 'stroke-width':3}, axes);
    
    
    if (labels[i] !== ''){
      const t = mk('text', {x:XR+24, y:y+11, 'text-anchor':'start', 'font-size':31, fill:'#000'}, axes);
      t.textContent = labels[i];
      
      
    }
  });
}
leftAxis(tempTicks, tempTicks.map(String), yTemp, 'temp-axis');
leftAxis(jTicks, jTicks.map(String), yJ, 'jno2-axis');
leftAxis(noTicks, noLabels, yNO, 'no-axis');
leftAxis(isoTicks, isoTicks.map(String), yIso, 'isoprene-axis');
rightAxis(rhTicks, rhTicks.map(String), yRH, 'rh-axis');
rightAxis(o3Ticks, o3Ticks.map(String), yO3Axis, 'ozone-axis');
rightAxis(no2Ticks, no2Labels, yNO2, 'no2-axis');
rightAxis(mtTicks, mtLabels, yMT, 'monoterpenes-axis');
</script>
</body></html>
